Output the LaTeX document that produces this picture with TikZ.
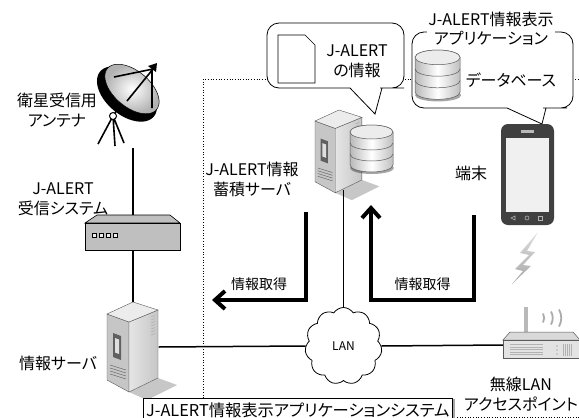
\documentclass[tikz,border=0pt]{standalone}
\usepackage{fontspec}
\setmainfont{Noto Sans CJK JP}[RawFeature={+palt}]
\usetikzlibrary{arrows.meta, positioning, shapes.symbols, shadows}
\definecolor{cDark}{RGB}{64,64,64}
\definecolor{cEdge}{RGB}{90,90,90}
\tikzset{
	devbox/.style ={draw=none, inner sep=0pt},
	lbl/.style    ={font=\fontsize{16}{20}\selectfont, align=center, inner sep=1pt},
	lblsm/.style  ={font=\fontsize{14}{17}\selectfont, inner sep=1pt},
	link/.style   ={line width=1.5pt},
	getarr/.style ={line width=4pt, -{Straight Barb[length=10pt, width=18pt]}},
	bound/.style  ={dotted, line width=0.7pt},
	callout/.style={draw, fill=white, line width=0.8pt},
	% tower server, origin at its top left corner
	tower/.pic={
		\fill[black, opacity=.22] (22,90) -- (51,76) -- (70,83) -- (40,98) -- cycle;
		\filldraw[draw=cEdge, line width=.4pt, fill=gray!45] (0,12) -- (22,20) -- (22,90) -- (0,78) -- cycle;
		\shadedraw[left color=gray!20, right color=gray!45, draw=cEdge, line width=.4pt] (22,20) -- (51,8) -- (51,76) -- (22,90) -- cycle;
		\filldraw[draw=cEdge, line width=.4pt, fill=gray!15] (0,12) -- (26,0) -- (51,8) -- (22,20) -- cycle;
		\fill[gray!75!black] (6,31) -- (14,34) -- (14,58) -- (6,55) -- cycle;
		\fill[gray!25] (8,36) -- (12,37.5) -- (12,52) -- (8,50.5) -- cycle;
		\foreach \k in {0,...,3}
			\draw[gray!70!black, line width=.4pt] (3,63+3*\k) -- (19,68+3*\k);
		\foreach \k in {0,...,6}
			\draw[gray!65, line width=.5pt] (44,15+3*\k) -- (48,13.5+3*\k);
	},
	% three-disk database, origin at its top left corner
	dbase/.pic={
		\fill[black, opacity=.35] (22,43) ellipse[x radius=22, y radius=6];
		\shadedraw[left color=gray!55, right color=gray!50, middle color=white, draw=cEdge, line width=.5pt]
			(0,7) -- (0,40) arc[start angle=180, end angle=0, x radius=21.5, y radius=7]
			-- (43,7) arc[start angle=0, end angle=-180, x radius=21.5, y radius=7] -- cycle;
		\foreach \b in {18,29}
			\draw[cEdge, line width=.5pt] (0,\b) arc[start angle=180, end angle=0, x radius=21.5, y radius=7];
		\filldraw[draw=cEdge, fill=gray!15, line width=.5pt] (21.5,7) ellipse[x radius=21.5, y radius=7];
	},
}

\begin{document}
\begin{tikzpicture}[x=1pt, y=-1pt]
	\useasboundingbox (0,0) rectangle (579,418);
	\fill[white] (0,0) rectangle (579,418);

	% system boundary
	\draw[bound] (203,417) -- (203,79) -- (590,79);
	\draw[bound] (203,417) -- (590,417);

	% frames the cables attach to
	\node[devbox, minimum width=66pt, minimum height=86pt] (ant) at (133,105) {};
	\node[devbox, minimum width=95pt, minimum height=35pt] (rx) at (133,232.5) {};
	\node[devbox, minimum width=51pt, minimum height=90pt] (isrv) at (133,347) {};
	\node[devbox, minimum width=56pt, minimum height=80pt] (ssrv) at (343.5,150) {};
	\node[devbox, minimum width=77pt, minimum height=26pt] (ap) at (541.5,345) {};

	% cables
	\draw[link] (ant.south) -- (rx.north);
	\draw[link] (rx.south) -- (isrv.north);
	\node[cloud, draw, fill=white, cloud puffs=11, cloud puff arc=115, aspect=1, minimum width=77pt, minimum height=77pt,
		inner sep=0pt, line width=.8pt, font=\fontsize{12}{14}\selectfont] (lan) at (343.5,346) {LAN};
	\draw[link] (isrv.east) -- (lan.west);
	\draw[link] (lan.east) -- (ap.west);
	\draw[link] (lan.north) -- (lan.north |- ssrv.south);

	% satellite dish: dark back rim, then the bowl, tilted 40 degrees
	\fill[black] plot[domain=0:360, samples=72, smooth cycle]
		({127+35*cos(\x)*cos(40)-21*sin(\x)*sin(40)}, {94+35*cos(\x)*sin(40)+21*sin(\x)*cos(40)});
	\shadedraw[inner color=white, outer color=gray!60, draw=black, line width=.5pt] plot[domain=0:360, samples=72, smooth cycle]
		({132+32*cos(\x)*cos(40)-18*sin(\x)*sin(40)}, {89+32*cos(\x)*sin(40)+18*sin(\x)*cos(40)});
	\draw[line width=1.6pt] (114,77) -- (153,69) (127,101) -- (153,69) (152,108) -- (152,69);
	\fill (148,66) -- (157,63) -- (156,72) -- cycle;
	\draw[line width=1.6pt] (113,116) -- (98,144) (113,116) -- (115,146) (113,116) -- (124,143) (113,116) -- (117,110);
	\draw[line width=1pt, fill=white] (113,116) circle[radius=3.5];

	% receiver box
	\draw[fill=gray!50, line width=.6pt] (85,223) -- (97,215) -- (170,215) -- (180,223) -- cycle;
	\draw[fill=gray!50, line width=.6pt] (85,223) rectangle (180,250);
	\foreach \k in {0,...,3}
		\draw[line width=.5pt, fill=gray!15] (92+7*\k,233) rectangle +(4,4);

	% servers
	\pic at (107,302) {tower};
	\pic[scale=.92] at (315,110) {tower};
	\pic at (350,125) {dbase};

	% data flow
	\coordinate (get1a) at (306,212);
	\coordinate (get1b) at (212,300);
	\coordinate (get2a) at (474,215);
	\coordinate (get2b) at (371,300);
	\coordinate (get2c) at (371,205);
	\draw[getarr] (get1a) |- node[lblsm, pos=.75, above=6pt] (get1lbl) {情報取得} (get1b);
	\draw[getarr] (get2a) |- node[lblsm, pos=.75, above=6pt] (get2lbl) {情報取得} (get2b) -- (get2c);

	% callouts
	\draw[callout] (267,55) [rounded corners=12pt] -- (267,23) -- (404,23) -- (404,88) -- (392,88)
		[sharp corners] -- (382,88) -- (375,114) -- (350,88) -- (340,88)
		[rounded corners=12pt] -- (267,88) -- cycle;
	\draw[line width=.7pt, fill=white] (278,35) -- (305,35) -- (315,45) -- (315,83) -- (278,83) -- cycle;
	\node[lbl] (alertinfo) at (357,61) {J-ALERT\\の情報};

	\draw[callout] (412,70) [rounded corners=12pt] -- (412,32) -- (573,32) -- (573,108) -- (555,108)
		[sharp corners] -- (546,108) -- (542,124) -- (507,108) -- (497,108)
		[rounded corners=12pt] -- (412,108) -- cycle;
	\node[lbl, fill=white, font=\fontsize{16}{19}\selectfont] (apptitle) at (491,29) {J-ALERT情報表示\\アプリケーション};
	\pic[scale=1.05] at (415,50) {dbase};
	\node[lbl] (dbname) at (511,80) {データベース};

	% terminal
	\fill[cDark, rounded corners=7pt] (501,124) rectangle (554,225);
	\fill[gray!12] (506,138) rectangle (549,212);
	\fill[gray!55] (521,130) rectangle (534,133);
	\draw[gray!60, line width=.6pt] (511,218) -- (515,216) -- (515,220) -- cycle;
	\draw[gray!60, line width=.6pt] (527,218) circle[radius=2];
	\draw[gray!60, line width=.6pt] (538,216) rectangle (542,220);

	% radio link
	\shade[top color=gray!25, bottom color=gray!70]
		(538,232) -- (520,253) -- (529,255) -- (515,269) -- (523,271) -- (512,284)
		-- (531,266) -- (523,265) -- (535,252) -- (527,251) -- cycle;

	% access point
	\fill[gray!55] (524,307) rectangle (528,334);
	\foreach \wx/\wh in {543/9, 551/13, 559/17}
		\draw[gray!65, line width=1.8pt] (\wx,318-\wh/2) arc[start angle=-30, end angle=30, radius=\wh];
	\draw[fill=gray!30, draw=cEdge, line width=.5pt] (503,340) -- (510,332) -- (573,332) -- (580,340) -- cycle;
	\draw[fill=gray!22, draw=cEdge, line width=.5pt] (503,340) rectangle (580,358);
	\foreach \k in {0,...,4}
		\draw[gray!60, line width=.6pt] (510,344.5+2.5*\k) -- (543,344.5+2.5*\k);
	\foreach \k in {0,1,2}
		\fill[gray!60] (557,346+4*\k) circle[radius=.8];
	\foreach \k in {0,...,4}
		\draw[gray!60, line width=.6pt] (563+2*\k,344) -- (563+2*\k,356);

	% labels
	\node[lbl] (antname) at (57,110) {衛星受信用\\アンテナ};
	\node[lbl] (rxname) at (63,199) {J-ALERT\\受信システム};
	\node[lbl] (isrvname) at (58,363) {情報サーバ};
	\node[lbl] (ssrvname) at (252,179) {J-ALERT情報\\蓄積サーバ};
	\node[lbl] (termname) at (471,173) {端末};
	\node[lbl] (apname) at (521,394) {無線LAN\\アクセスポイント};
	\node[draw, fill=white, anchor=north west, font=\fontsize{16.3}{19}\selectfont, minimum height=24pt, inner xsep=3pt,
		drop shadow={shadow xshift=2.5pt, shadow yshift=-1pt, fill=gray!70, opacity=1}] (sysname) at (143,398)
		{J-ALERT情報表示アプリケーションシステム};
\end{tikzpicture}
\end{document}
